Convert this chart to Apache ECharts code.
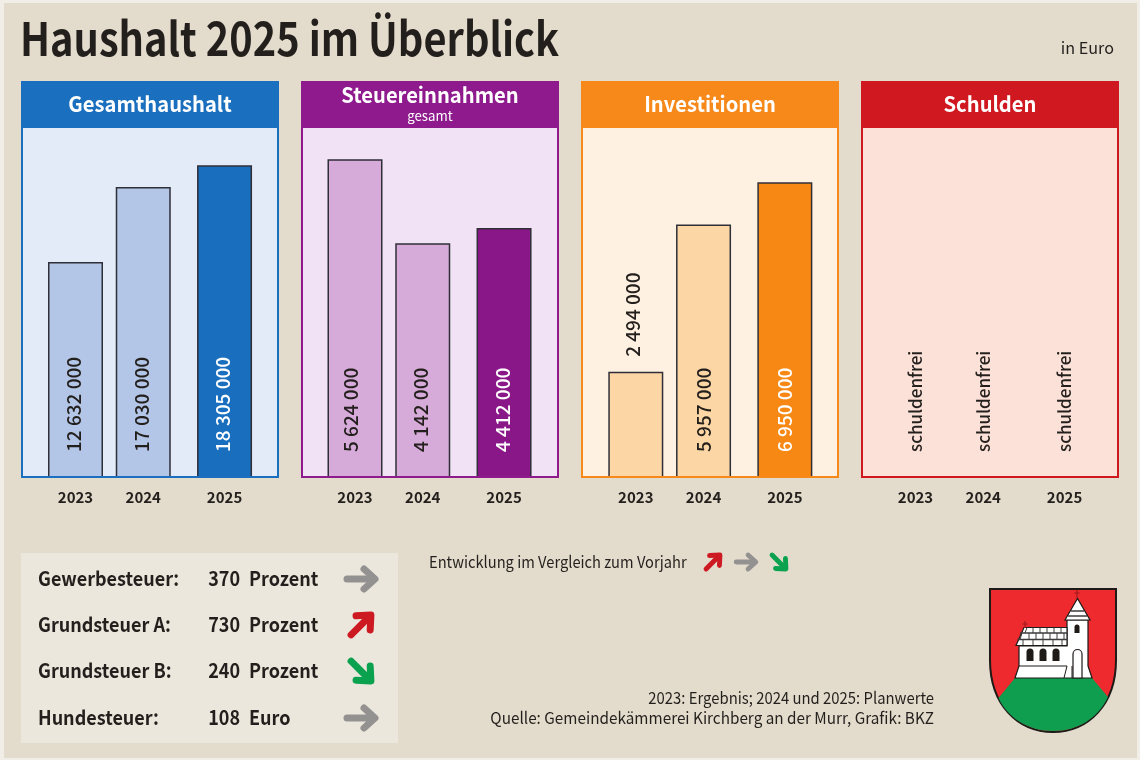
<!DOCTYPE html>
<html>
<head>
<meta charset="utf-8">
<title>Haushalt 2025 im Überblick</title>
<script src="https://cdn.jsdelivr.net/npm/echarts@6/dist/echarts.min.js"></script>
<style>
  html, body { margin: 0; padding: 0; background: #f1eee7; }
  #main { width: 1140px; height: 760px; }
</style>
</head>
<body>
<div id="main"></div>
<script>
// data
var years = ['2023', '2024', '2025'];
var gesamthaushalt = [12632000, 17030000, 18305000];
var steuereinnahmen = [5624000, 4142000, 4412000];
var investitionen = [2494000, 5957000, 6950000];
var schulden = [0, 0, 0];
var schuldenText = ['schuldenfrei', 'schuldenfrei', 'schuldenfrei'];

var steuerNamen = ['Gewerbesteuer:', 'Grundsteuer A:', 'Grundsteuer B:', 'Hundesteuer:'];
var steuerSaetze = ['370', '730', '240', '108'];
var steuerEinheiten = ['Prozent', 'Prozent', 'Prozent', 'Euro'];
var steuerTrends = ['gleich', 'hoch', 'runter', 'gleich'];

var FONT = '"Noto Sans CJK SC", "Noto Sans", sans-serif';
var INK = '#231f1c';

// the years are not evenly spaced in the original: 5 and 6 slots apart
var SLOTS = 12, SLOT_W = 13.55, yearSlots = [0, 5, 11];
var slotNames = [];
for (var s = 0; s < SLOTS; s++) {
  slotNames.push(yearSlots.indexOf(s) >= 0 ? years[yearSlots.indexOf(s)] : '');
}

// nudge: the hand placed labels in the original sit a little off the bar centre
var panels = [
  { title: 'Gesamthaushalt', x: 21, first: 54.5, main: '#1a6fbe', body: '#e4ebf8', bar: '#b3c6e8', last: '#1a6ebe', lastText: '#fff', values: gesamthaushalt, max: 20480000, nudge: [-1.7, -1.3, -2] },
  { title: 'Steuereinnahmen', sub: 'gesamt', x: 301, first: 54, main: '#8e1a8d', body: '#f2e2f5', bar: '#d6aad9', last: '#8a1788', lastText: '#fff', values: steuereinnahmen, max: 6177000, nudge: [-4, -2.3, -1.2] },
  { title: 'Investitionen', x: 581, first: 54.8, main: '#f6891a', body: '#fff1e1', bar: '#fdd6a6', last: '#f78814', lastText: '#fff', values: investitionen, max: 8225000, nudge: [-3, 0, 0] },
  { title: 'Schulden', x: 861, first: 54.5, main: '#cf1820', body: '#fbe1d8', bar: '#fbe1d8', last: '#fbe1d8', lastText: INK, values: schulden, texts: schuldenText, max: 1, nudge: [0, 0, 0] }
];

function euro(v) {
  return String(v).replace(/\B(?=(\d{3})+$)/g, ' ');
}

// sx squeezes the text: the original face is narrower than anything installed
function txt(text, x, y, size, weight, color, align, sx) {
  return {
    type: 'text',
    x: x, y: y, scaleX: sx || 1,
    z: 5,
    style: {
      text: text, x: 0, y: 0, fill: color || INK,
      fontFamily: FONT, fontSize: size, fontWeight: weight || 400,
      align: align || 'left', verticalAlign: 'middle'
    }
  };
}

function arrow(cx, cy, trend, scale) {
  var rot = trend === 'hoch' ? Math.PI / 4 : trend === 'runter' ? -Math.PI / 4 : 0;
  var color = trend === 'hoch' ? '#cd1921' : trend === 'runter' ? '#0aa24e' : '#949191';
  var line = { stroke: color, lineWidth: 7, lineCap: 'round', lineJoin: 'round', fill: null };
  return {
    type: 'group', x: cx, y: cy, rotation: rot, scaleX: scale, scaleY: scale, z: 5,
    children: [
      { type: 'polyline', shape: { points: [[-14, 0], [13, 0]] }, style: line },
      { type: 'polyline', shape: { points: [[3, -10], [14, 0], [3, 10]] }, style: line }
    ]
  };
}

// graphic has no plain path type, so each outline is registered as its own shape
var shapeCount = 0;
function shape(d, fill, stroke, width) {
  var name = 'wappen' + (shapeCount++);
  echarts.graphic.registerShape(name, echarts.graphic.extendPath(d));
  return { type: name, z: 5, style: { fill: fill, stroke: stroke || null, lineWidth: width || 0 } };
}

// Wappen
function wappen() {
  var dark = '#1d1a18';
  return [
    shape('M990 589 H1116 V660 C1116 705 1088 732 1053 732 C1018 732 990 705 990 660 Z', '#ee2a2e', dark, 2),
    shape('M998.5 698 L1015 678 H1092 L1108 697 C1098 718 1078 731 1053 731 C1028 731 1008 718 998.5 698 Z', '#0f9d4f'),
    shape('M1015 678 L1019 666 V646 H1067 V620 H1088 V666 L1092 678 Z', '#fff', dark, 1.2),
    shape('M1016 645.5 L1024 627.5 H1067 V645.5 Z', '#fff', dark, 1.2),
    shape('M1065 620 L1077.5 598.5 L1090 620 Z', '#fff', dark, 1.2),
    shape('M1020 633 H1067 M1017.5 639.5 H1067 M1071 611 H1084 M1068 616 H1087', null, '#3c3c3c', 1.4),
    shape('M1027 627.5 L1025 633 M1033 627.5 V633 M1040 627.5 V633 M1047 627.5 V633 M1054 627.5 V633 M1061 627.5 V633 M1022 633 L1020 639.5 M1029 633 V639.5 M1036 633 V639.5 M1043 633 V639.5 M1050 633 V639.5 M1057 633 V639.5 M1064 633 V639.5 M1023 639.5 V645 M1033 639.5 V645 M1043 639.5 V645 M1053 639.5 V645 M1062 639.5 V645', null, '#3c3c3c', 1),
    shape('M1019 666 H1067 M1067 666 L1064 678 M1072 666 V678', null, dark, 1),
    shape('M1077 590 V598 M1074.5 593 H1079.5 M1025 621 V628 M1022.5 624 H1027.5', null, '#b11d22', 1.5),
    shape('M1026.5 661 V652 A3.5 3.5 0 0 1 1033.5 652 V661 Z', dark),
    shape('M1039.5 661 V652 A3.5 3.5 0 0 1 1046.5 652 V661 Z', dark),
    shape('M1052.5 661 V652 A3.5 3.5 0 0 1 1059.5 652 V661 Z', dark),
    shape('M1074.5 633 V627 A2.5 2.5 0 0 1 1079.5 627 V633 Z', dark),
    shape('M1073 678 V654 A4.5 4.5 0 0 1 1082 654 V678 Z', '#fff', dark, 1.2)
  ];
}

var grids = [], xAxes = [], yAxes = [], seriesList = [];
var graphics = [
  { type: 'rect', z: -2, shape: { x: 4, y: 3, width: 1133, height: 755 }, style: { fill: '#e3dccd' } },
  txt('Haushalt 2025 im Überblick', 20, 38, 46.5, 700, INK, 'left', 0.855),
  txt('in Euro', 1114, 48, 16.5, 400, INK, 'right', 0.98)
];

panels.forEach(function (p, i) {
  graphics.push({ type: 'rect', z: -1, shape: { x: p.x + 1, y: 82, width: 256, height: 395 }, style: { fill: p.body, stroke: p.main, lineWidth: 2 } });
  graphics.push({ type: 'rect', z: -1, shape: { x: p.x, y: 81, width: 258, height: 47 }, style: { fill: p.main } });
  // the panel's bottom edge runs over the feet of the bars
  graphics.push({ type: 'rect', z: 5, shape: { x: p.x, y: 476, width: 258, height: 2 }, style: { fill: p.main } });
  if (p.sub) {
    graphics.push(txt(p.title, p.x + 129, 95, 21, 700, '#fff', 'center', 0.96));
    graphics.push(txt(p.sub, p.x + 129, 116, 13.5, 400, '#fff', 'center', 0.98));
  } else {
    graphics.push(txt(p.title, p.x + 129, 104, 21, 700, '#fff', 'center', 0.96));
  }

  grids.push({ left: p.x + p.first - SLOT_W / 2, top: 128, width: SLOTS * SLOT_W, height: 350 });
  xAxes.push({
    gridIndex: i, type: 'category', data: slotNames,
    axisLine: { show: false }, axisTick: { show: false },
    axisLabel: { interval: 0, margin: 12, color: INK, fontFamily: FONT, fontSize: 15, fontWeight: 600 }
  });
  yAxes.push({ gridIndex: i, type: 'value', min: 0, max: p.max, show: false });

  var data = slotNames.map(function (n, k) {
    var idx = yearSlots.indexOf(k);
    if (idx < 0) return null;
    var v = p.values[idx];
    var isLast = idx === years.length - 1;
    var outside = p.texts || v < 3000000;
    return {
      value: v,
      itemStyle: {
        color: isLast ? p.last : p.bar,
        borderColor: p.texts ? 'transparent' : '#2f2f38',
        borderWidth: p.texts ? 0 : 1.5
      },
      label: {
        show: true,
        position: outside ? 'top' : 'insideBottom',
        distance: p.texts ? 26 : outside ? 15 : 26,
        rotate: 90, align: 'left', verticalAlign: 'middle',
        // the offset turns with the label, so y moves it sideways here
        offset: [0, p.nudge[idx]],
        color: isLast ? p.lastText : INK,
        fontFamily: FONT,
        fontSize: p.texts ? 17 : 19,
        fontWeight: 500,
        formatter: p.texts ? p.texts[idx] : euro(v)
      }
    };
  });
  seriesList.push({
    type: 'bar', xAxisIndex: i, yAxisIndex: i, barWidth: 55, clip: false,
    silent: true, animation: false, data: data
  });
});

// Steuersaetze links unten
graphics.push({ type: 'rect', z: -1, shape: { x: 21, y: 553, width: 377, height: 190 }, style: { fill: '#ece7dd' } });
var rowY = [578, 624, 670, 717];
steuerNamen.forEach(function (name, i) {
  graphics.push(txt(name, 38, rowY[i], 20, 600, INK, 'left', 0.9));
  graphics.push(txt(steuerSaetze[i], 240, rowY[i], 20, 600, INK, 'right', 0.9));
  graphics.push(txt(steuerEinheiten[i], 249, rowY[i], 20, 600, INK, 'left', 0.9));
  graphics.push(arrow(361, rowY[i] + 1, steuerTrends[i], 1));
});

// Legende und Quelle
graphics.push(txt('Entwicklung im Vergleich zum Vorjahr', 429, 562, 16.5, 400, INK, 'left', 0.89));
graphics.push(arrow(713, 562, 'hoch', 0.7));
graphics.push(arrow(746, 562, 'gleich', 0.7));
graphics.push(arrow(779, 562, 'runter', 0.7));
graphics.push(txt('2023: Ergebnis; 2024 und 2025: Planwerte', 934, 698, 16.5, 400, INK, 'right', 0.9));
graphics.push(txt('Quelle: Gemeindekämmerei Kirchberg an der Murr, Grafik: BKZ', 934, 718, 16.5, 400, INK, 'right', 0.927));
graphics = graphics.concat(wappen());

var chart = echarts.init(document.getElementById('main'), null, { renderer: 'canvas' });
chart.setOption({
  animation: false,
  backgroundColor: '#f1eee7',
  tooltip: { show: false },
  grid: grids,
  xAxis: xAxes,
  yAxis: yAxes,
  series: seriesList,
  graphic: { elements: graphics }
});
</script>
</body>
</html>
